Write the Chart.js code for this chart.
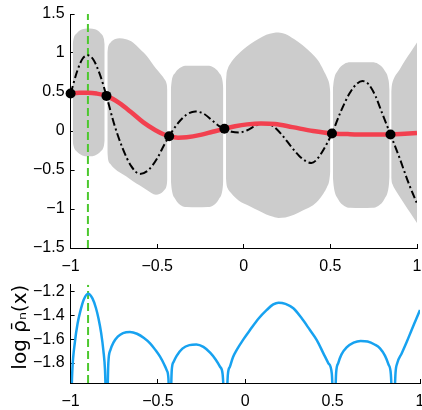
<!DOCTYPE html>
<html>
<head>
<meta charset="utf-8">
<script src="https://cdn.jsdelivr.net/npm/chart.js@4.4.1/dist/chart.umd.min.js"></script>
<style>
  html, body { margin: 0; padding: 0; background: #fff; }
  #wrap { position: relative; width: 422px; height: 410px; overflow: hidden; }
  #top { position: absolute; left: 0; top: 0; }
  #bottom { position: absolute; left: 0; top: 275px; }
</style>
</head>
<body>
<div id="wrap">
  <canvas id="top" width="422" height="275"></canvas>
  <canvas id="bottom" width="422" height="135"></canvas>
</div>
<script>
// ------------------------------
// Data
// ------------------------------

const xTicks = [-1, -0.5, 0, 0.5, 1];
const yTicksTop = [-1.5, -1, -0.5, 0, 0.5, 1, 1.5];
const yTicksBottom = [-1.8, -1.6, -1.4, -1.2];

// observed samples (black dots)
const obsX = [-1, -0.793, -0.431, -0.112, 0.509, 0.847];
const obsY = [0.48, 0.45, -0.067, 0.028, -0.032, -0.045];

// true function (dash-dot)
const trueX = [-1, -0.96, -0.93, -0.9, -0.87, -0.83, -0.793, -0.75, -0.7, -0.65, -0.6, -0.55, -0.5, -0.46,
    -0.431, -0.38, -0.33, -0.28, -0.23, -0.18, -0.14, -0.112, -0.07, -0.03, 0.02, 0.07, 0.12, 0.17,
    0.22, 0.27, 0.32, 0.36, 0.39, 0.42, 0.46, 0.509, 0.56, 0.61, 0.65, 0.685, 0.72, 0.76, 0.8, 0.847,
    0.9, 0.95, 1];
const trueY = [0.48, 0.78, 0.93, 0.97, 0.92, 0.72, 0.45, 0.1, -0.22, -0.45, -0.55, -0.5, -0.35, -0.18,
    -0.067, 0.1, 0.21, 0.25, 0.22, 0.13, 0.06, 0.028, -0.01, -0.02, 0.01, 0.07, 0.1, 0.06,
    -0.05, -0.19, -0.32, -0.39, -0.41, -0.37, -0.24, -0.032, 0.25, 0.48, 0.6, 0.64, 0.6, 0.45, 0.22, -0.045,
    -0.35, -0.66, -0.93];

// posterior mean (red)
const meanX = [-1, -0.95, -0.9, -0.85, -0.793, -0.72, -0.65, -0.58, -0.51, -0.46, -0.431, -0.38, -0.33,
    -0.25, -0.18, -0.112, -0.05, 0.02, 0.1, 0.18, 0.28, 0.4, 0.509, 0.6, 0.7, 0.847, 0.93, 1];
const meanY = [0.48, 0.49, 0.49, 0.48, 0.45, 0.36, 0.24, 0.11, 0.01, -0.045, -0.067, -0.085, -0.08,
    -0.05, -0.01, 0.028, 0.06, 0.085, 0.097, 0.09, 0.05, 0.0, -0.032, -0.04, -0.045, -0.045, -0.035, -0.025];

// uncertainty band, one blob between each pair of samples
const bandX = [
    [-0.988, -0.983, -0.963, -0.932, -0.903, -0.888, -0.859, -0.828, -0.808, -0.803],
    [-0.788, -0.784, -0.768, -0.742, -0.718, -0.68, -0.64, -0.6, -0.56, -0.507, -0.484, -0.46, -0.445, -0.441],
    [-0.421, -0.416, -0.395, -0.362, -0.331, -0.27, -0.208, -0.177, -0.144, -0.123, -0.118],
    [-0.103, -0.1, -0.092, -0.08, -0.06, -0.03, 0, 0.04, 0.084, 0.13, 0.17, 0.2, 0.24, 0.29, 0.34, 0.39, 0.43, 0.46, 0.48, 0.493, 0.5],
    [0.514, 0.52, 0.543, 0.58, 0.614, 0.678, 0.742, 0.776, 0.813, 0.836, 0.842],
    [0.851, 0.853, 0.858, 0.866, 0.878, 0.9, 0.93, 0.96, 1]
];
const bandHi = [
    [1.115, 1.183, 1.256, 1.303, 1.315, 1.315, 1.303, 1.256, 1.183, 1.115],
    [1.01, 1.07, 1.137, 1.18, 1.19, 1.175, 1.135, 1.05, 0.96, 0.8, 0.74, 0.67, 0.6, 0.53],
    [0.545, 0.644, 0.75, 0.818, 0.835, 0.838, 0.835, 0.818, 0.75, 0.644, 0.545],
    [0.62, 0.72, 0.8, 0.855, 0.92, 0.99, 1.05, 1.12, 1.18, 1.235, 1.258, 1.264, 1.245, 1.18, 1.1, 1.0, 0.9, 0.78, 0.69, 0.61, 0.5],
    [0.53, 0.65, 0.777, 0.859, 0.88, 0.882, 0.88, 0.859, 0.777, 0.65, 0.53],
    [0.5, 0.56, 0.62, 0.67, 0.72, 0.79, 0.9, 1.0, 1.135]
];
const bandLo = [
    [-0.125, -0.193, -0.266, -0.313, -0.325, -0.325, -0.313, -0.266, -0.193, -0.125],
    [-0.28, -0.36, -0.43, -0.49, -0.53, -0.58, -0.645, -0.7, -0.755, -0.817, -0.806, -0.761, -0.692, -0.627],
    [-0.635, -0.751, -0.875, -0.955, -0.975, -0.978, -0.975, -0.955, -0.875, -0.751, -0.635],
    [-0.6, -0.68, -0.74, -0.78, -0.83, -0.89, -0.93, -0.97, -1.02, -1.07, -1.1, -1.115, -1.11, -1.075, -1.02, -0.965, -0.89, -0.8, -0.72, -0.64, -0.52],
    [-0.585, -0.722, -0.868, -0.961, -0.985, -0.988, -0.985, -0.961, -0.868, -0.722, -0.585],
    [-0.6, -0.64, -0.68, -0.72, -0.765, -0.842, -0.944, -1.046, -1.18]
];

// log rho_n(x) (blue), drops off the axis at every sample
const rhoX = [-1, -0.99, -0.975, -0.96, -0.945, -0.925, -0.9, -0.875, -0.855, -0.84, -0.825, -0.812, -0.803,
    -0.793, -0.784, -0.772, -0.755, -0.73, -0.7, -0.66, -0.62, -0.58, -0.545, -0.515, -0.488, -0.465, -0.45, -0.44,
    -0.431, -0.421, -0.41, -0.393, -0.36, -0.32, -0.28, -0.24, -0.2, -0.17, -0.145, -0.13,
    -0.112, -0.1, -0.088, -0.07, -0.049, -0.01, 0.027, 0.075, 0.123, 0.16, 0.19, 0.23, 0.275, 0.32, 0.37, 0.41, 0.447, 0.475, 0.495,
    0.509, 0.52, 0.532, 0.55, 0.58, 0.62, 0.66, 0.7, 0.74, 0.771, 0.8, 0.819, 0.833,
    0.847, 0.86, 0.87, 0.895, 0.925, 0.952, 0.976, 1];
const rhoY = [-2.3, -1.86, -1.62, -1.47, -1.37, -1.27, -1.22, -1.26, -1.34, -1.43, -1.55, -1.7, -1.86,
    -2.3, -1.8, -1.69, -1.63, -1.58, -1.55, -1.54, -1.555, -1.59, -1.635, -1.69, -1.747, -1.81, -1.86, -1.93,
    -2.3, -1.86, -1.79, -1.74, -1.68, -1.65, -1.645, -1.665, -1.715, -1.77, -1.83, -1.89,
    -2.3, -1.9, -1.83, -1.75, -1.69, -1.6, -1.524, -1.43, -1.356, -1.31, -1.295, -1.305, -1.342, -1.42, -1.524, -1.61, -1.719, -1.8, -1.886,
    -2.3, -1.88, -1.8, -1.73, -1.67, -1.63, -1.615, -1.62, -1.645, -1.677, -1.74, -1.81, -1.89,
    -2.3, -1.88, -1.8, -1.72, -1.62, -1.524, -1.44, -1.356];

const markX = -0.9;              // next sample location (green dashed)
const rhoMin = -1.967, rhoMax = -1.145;

// ------------------------------
// Helpers
// ------------------------------

Chart.defaults.font.family = "'Liberation Sans', Arial, 'DejaVu Sans', sans-serif";
Chart.defaults.font.size = 16;
Chart.defaults.color = "#000";

const pts = (xs, ys) => xs.map((x, i) => ({ x: x, y: ys[i] }));
const fmt = v => String(Math.round(v * 100) / 100).replace("-", "\u2212");

function xAxis() {
    return {
        type: "linear", min: -1, max: 1,
        border: { color: "#000", width: 1 },
        grid: { drawOnChartArea: false, tickLength: -4, color: "#000" },
        ticks: { padding: 13, maxRotation: 0, autoSkip: false, callback: fmt },
        afterBuildTicks: s => { s.ticks = xTicks.map(v => ({ value: v })); },
        afterFit: s => { s.height = 27; s.paddingLeft = 0; s.paddingRight = 0; }
    };
}

function yAxis(min, max, ticks, title) {
    return {
        type: "linear", min: min, max: max,
        border: { color: "#000", width: 1 },
        grid: { drawOnChartArea: false, tickLength: -4, color: "#000" },
        ticks: { padding: 10, autoSkip: false, callback: fmt },
        afterBuildTicks: s => { s.ticks = ticks.map(v => ({ value: v })); },
        afterFit: s => { s.width = 70.6; s.paddingTop = 0; s.paddingBottom = 0; },
        title: title || { display: false }
    };
}

const baseOptions = {
    responsive: false,
    animation: false,
    events: [],
    plugins: { legend: { display: false }, tooltip: { enabled: false } }
};

// ------------------------------
// Top panel
// ------------------------------

const topSets = [];

bandX.forEach((xs, i) => {
    topSets.push({
        data: pts(xs, bandHi[i]), fill: "+1", backgroundColor: "#cccccc",
        borderColor: "rgba(0,0,0,0)", borderWidth: 0, pointRadius: 0,
        cubicInterpolationMode: "monotone", order: 10
    });
    topSets.push({
        data: pts(xs, bandLo[i]), fill: false,
        borderColor: "rgba(0,0,0,0)", borderWidth: 0, pointRadius: 0,
        cubicInterpolationMode: "monotone", order: 10
    });
});

topSets.push({
    data: [{ x: markX, y: -1.5 }, { x: markX, y: 1.5 }],
    borderColor: "#4cc82e", borderWidth: 2, borderDash: [8, 4], pointRadius: 0, order: 5
});

topSets.push({
    data: pts(trueX, trueY), borderColor: "#000", borderWidth: 2, borderDash: [8, 3, 2, 3],
    pointRadius: 0, cubicInterpolationMode: "monotone", order: 3
});

topSets.push({
    data: pts(meanX, meanY), borderColor: "#f2404f", borderWidth: 4.5,
    pointRadius: 0, cubicInterpolationMode: "monotone", order: 2
});

topSets.push({
    data: pts(obsX, obsY), showLine: false, pointRadius: 5, pointBorderWidth: 0,
    pointBackgroundColor: "#000", clip: false, order: 1
});

new Chart(document.getElementById("top"), {
    type: "line",
    data: { datasets: topSets },
    options: Object.assign({}, baseOptions, {
        layout: { padding: { top: 14, right: 2, left: 0, bottom: 0 } },
        scales: { x: xAxis(), y: yAxis(-1.5, 1.5, yTicksTop) }
    })
});

// ------------------------------
// Bottom panel
// ------------------------------

new Chart(document.getElementById("bottom"), {
    type: "line",
    data: {
        datasets: [
            {
                data: pts(rhoX, rhoY), borderColor: "#17a2f0", borderWidth: 2.5,
                pointRadius: 0, cubicInterpolationMode: "monotone", clip: 0, order: 1
            },
            {
                data: [{ x: markX, y: rhoMin }, { x: markX, y: rhoMax }],
                borderColor: "#4cc82e", borderWidth: 2, borderDash: [8, 4], pointRadius: 0, order: 2
            }
        ]
    },
    options: Object.assign({}, baseOptions, {
        layout: { padding: { top: 9.7, right: 2, left: 0, bottom: 0 } },
        scales: {
            x: xAxis(),
            y: yAxis(rhoMin, rhoMax, yTicksBottom, {
                display: true, text: "log \u03C1\u0304\u2099(x)", align: "end",
                font: { size: 20, family: "'DejaVu Sans', sans-serif" },
                padding: { top: 9, bottom: 0 }
            })
        }
    })
});
</script>
</body>
</html>
